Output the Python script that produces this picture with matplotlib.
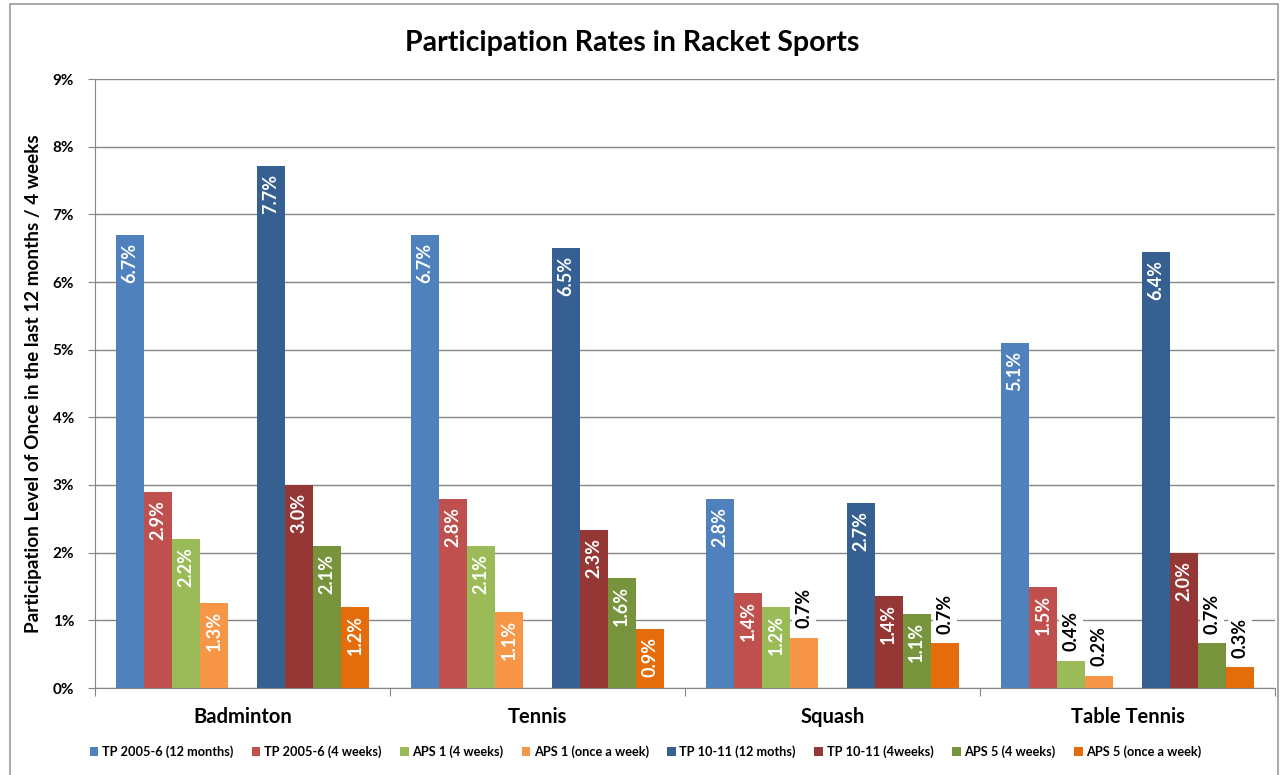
import matplotlib.pyplot as plt
from matplotlib.patches import Rectangle
from matplotlib.ticker import FixedLocator, FuncFormatter

plt.rcParams['font.family'] = ['Lato', 'DejaVu Sans']
plt.rcParams['font.weight'] = 'bold'

categories = ["Badminton", "Tennis", "Squash", "Table Tennis"]

series_names = [
    "TP 2005-6 (12 months)",
    "TP 2005-6 (4 weeks)",
    "APS 1 (4 weeks)",
    "APS 1 (once a week)",
    "TP 10-11 (12 moths)",
    "TP 10-11 (4weeks)",
    "APS 5 (4 weeks)",
    "APS 5 (once a week)",
]

tp0506_12m = [6.7, 6.7, 2.8, 5.1]
tp0506_4w = [2.9, 2.8, 1.4, 1.5]
aps1_4w = [2.2, 2.1, 1.2, 0.4]
aps1_week = [1.26, 1.12, 0.74, 0.18]
tp1011_12m = [7.72, 6.5, 2.74, 6.44]
tp1011_4w = [3.0, 2.34, 1.36, 1.99]
aps5_4w = [2.1, 1.63, 1.09, 0.66]
aps5_week = [1.2, 0.87, 0.66, 0.31]

series_values = [tp0506_12m, tp0506_4w, aps1_4w, aps1_week,
                 tp1011_12m, tp1011_4w, aps5_4w, aps5_week]

colors = ["#4F81BD", "#C0504D", "#9BBB59", "#F79646",
          "#376092", "#953735", "#77933C", "#E46C0A"]

# slot 4 is left empty, as in the original sheet
slots = [0, 1, 2, 3, 5, 6, 7, 8]

fig = plt.figure(figsize=(12.83, 7.75), dpi=100)
ax = fig.add_axes([95 / 1283, 1 - 688 / 775, 1180 / 1283, (688 - 79) / 775])

width = 1 / 10.5
handles = []
for k in range(len(series_values)):
    xs = [c + (slots[k] - 4) * width for c in range(len(categories))]
    bars = ax.bar(xs, series_values[k], width=width, color=colors[k],
                  label=series_names[k], zorder=3)
    handles.append(bars)
    for x, v in zip(xs, series_values[k]):
        text = "%.1f%%" % v
        if v >= 0.8:
            ax.text(x, v - 0.12, text, rotation=90, ha="center", va="top",
                    color="white", fontsize=13, fontweight="bold", zorder=4)
        else:
            ax.text(x, v + 0.14, text, rotation=90, ha="center", va="bottom",
                    color="black", fontsize=13, fontweight="bold", zorder=4,
                    bbox=dict(facecolor="white", edgecolor="none", pad=2.5))

ax.set_xlim(-0.5, len(categories) - 0.5)
ax.set_ylim(0, 9)
ax.yaxis.set_major_locator(FixedLocator(range(0, 10)))
ax.yaxis.set_major_formatter(FuncFormatter(lambda v, p: "%d%%" % v))
ax.grid(axis="y", color="#868686", linewidth=1, zorder=0)

ax.set_xticks([i - 0.5 for i in range(len(categories) + 1)])
ax.set_xticklabels([])
ax.set_xticks(range(len(categories)), minor=True)
ax.set_xticklabels(categories, minor=True, fontsize=14.5, fontweight="bold")
ax.tick_params(axis="x", which="major", length=6, color="#868686")
ax.tick_params(axis="x", which="minor", length=0, pad=14)
ax.tick_params(axis="y", length=5, color="#868686", labelsize=11, pad=10)

for s in ["top", "right"]:
    ax.spines[s].set_visible(False)
for s in ["left", "bottom"]:
    ax.spines[s].set_color("#868686")

ax.set_ylabel("Participation Level of Once in the last 12 months / 4 weeks",
              fontsize=13.6, fontweight="bold")
ax.yaxis.set_label_coords(-0.045, 0.5)

fig.text(632 / 1283, 1 - 43 / 775, "Participation Rates in Racket Sports",
         ha="center", va="center", fontsize=20.5, fontweight="bold")

fig.legend(handles=handles, loc="center", bbox_to_anchor=(0.503, 1 - 752 / 775),
           ncol=8, frameon=False, fontsize=9.2, handlelength=0.7, handleheight=0.7,
           handletextpad=0.25, columnspacing=1.45)

fig.patches.append(Rectangle((10 / 1283, -0.01), 1268 / 1283, 1.01 - 4 / 775,
                             transform=fig.transFigure, fill=False,
                             edgecolor="#9a9a9a", linewidth=1.2))

fig.savefig("out.png", dpi=100)
